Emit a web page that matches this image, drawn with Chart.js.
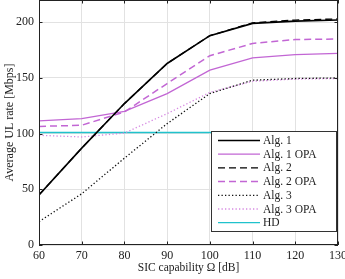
<!DOCTYPE html>
<html>
<head>
<meta charset="utf-8">
<script src="https://cdn.jsdelivr.net/npm/chart.js@4.4.0/dist/chart.umd.min.js"></script>
<style>
html,body{margin:0;padding:0;background:#fff;}
#wrap{width:345px;height:279px;position:relative;}
</style>
</head>
<body>
<div id="wrap"><canvas id="c" width="345" height="279"></canvas></div>
<script>
const sicCapability = [60, 70, 80, 90, 100, 110, 120, 130];
const alg1    = [45, 87, 127, 163, 188, 199, 201, 202];
const alg1OPA = [111.5, 113.5, 120, 136, 157, 168, 171, 172];
const alg2    = [45, 87, 127, 163, 188, 199.5, 202, 203];
const alg2OPA = [106.5, 107.5, 119.5, 145, 170, 181, 184.5, 185];
const alg3    = [21, 46, 78, 109, 136, 148, 149.5, 150];
const alg3OPA = [98.5, 97, 100.5, 118, 137, 147, 149, 149.5];
const hd      = [101, 101, 101, 101, 101, 101, 101, 101];
const yTicks = [0, 50, 100, 150, 200];
const xTicks = [60, 70, 80, 90, 100, 110, 120, 130];

const FONT = "'Liberation Serif', 'DejaVu Serif', serif";
const PURPLE = '#c266d4';
const PINK = '#d68ae2';
const CYAN = '#20c2cc';

function pts(arr){ return sicCapability.map((x,i)=>({x:x,y:arr[i]})); }

const datasets = [
  {label:'Alg. 1', data:pts(alg1), borderColor:'#000', borderWidth:1.6, borderDash:[]},
  {label:'Alg. 1 OPA', data:pts(alg1OPA), borderColor:PURPLE, borderWidth:1.3, borderDash:[]},
  {label:'Alg. 2', data:pts(alg2), borderColor:'#000', borderWidth:1.3, borderDash:[7,4]},
  {label:'Alg. 2 OPA', data:pts(alg2OPA), borderColor:PURPLE, borderWidth:1.5, borderDash:[7,4]},
  {label:'Alg. 3', data:pts(alg3), borderColor:'#111', borderWidth:1.3, borderDash:[1.3,2.2]},
  {label:'Alg. 3 OPA', data:pts(alg3OPA), borderColor:PINK, borderWidth:1.3, borderDash:[1.3,2.2]},
  {label:'HD', data:pts(hd), borderColor:CYAN, borderWidth:1.3, borderDash:[]}
];
datasets.forEach(d=>{ d.pointRadius=0; d.fill=false; d.tension=0; d.borderCapStyle='butt'; });

const framePlugin = {
  id:'frame',
  afterDatasetsDraw(chart){
    const ctx = chart.ctx, a = chart.chartArea;
    const xs = chart.scales.x, ys = chart.scales.y;
    ctx.save();
    ctx.strokeStyle = '#222';
    ctx.lineWidth = 1;
    ctx.strokeRect(a.left+0.5, a.top+0.5, a.right-a.left-1, a.bottom-a.top-1);
    const tl = 3.5;
    ctx.beginPath();
    xTicks.forEach(v=>{
      const px = Math.round(xs.getPixelForValue(v))+0.5;
      ctx.moveTo(px, a.bottom); ctx.lineTo(px, a.bottom-tl);
      ctx.moveTo(px, a.top); ctx.lineTo(px, a.top+tl);
    });
    yTicks.forEach(v=>{
      const py = Math.round(ys.getPixelForValue(v))+0.5;
      ctx.moveTo(a.left, py); ctx.lineTo(a.left+tl, py);
      ctx.moveTo(a.right, py); ctx.lineTo(a.right-tl, py);
    });
    ctx.stroke();

    // legend box
    const lx = 211, ly = 131, lw = 125, lh = 100;
    ctx.fillStyle = '#fff';
    ctx.fillRect(lx+0.5, ly+0.5, lw, lh);
    ctx.strokeStyle = '#333';
    ctx.lineWidth = 1;
    ctx.strokeRect(lx+0.5, ly+0.5, lw, lh);
    ctx.font = '11.5px ' + FONT;
    ctx.textBaseline = 'middle';
    ctx.textAlign = 'left';
    chart.data.datasets.forEach((d,i)=>{
      const y = ly + 9.5 + i*13.7;
      ctx.beginPath();
      ctx.strokeStyle = d.borderColor;
      ctx.lineWidth = d.borderWidth;
      ctx.setLineDash(d.borderDash || []);
      ctx.moveTo(218, y); ctx.lineTo(260, y);
      ctx.stroke();
      ctx.setLineDash([]);
      ctx.fillStyle = '#222';
      ctx.fillText(d.label, 263, y+0.5);
    });
    ctx.restore();
  }
};

function noPad(s){ s.paddingTop = 0; s.paddingBottom = 0; s.paddingLeft = 0; s.paddingRight = 0; }

new Chart(document.getElementById('c'), {
  type:'line',
  data:{datasets:datasets},
  options:{
    responsive:false,
    animation:false,
    devicePixelRatio:1,
    layout:{padding:{top:0, right:7, left:0, bottom:0}},
    plugins:{legend:{display:false}, tooltip:{enabled:false}},
    scales:{
      x:{
        type:'linear', min:60, max:130,
        afterBuildTicks(s){ s.ticks = xTicks.map(v=>({value:v})); },
        afterFit(s){ s.height = 34; noPad(s); },
        grid:{color:'#e2e2e2', lineWidth:1, drawTicks:false},
        border:{display:false},
        ticks:{font:{family:FONT,size:12}, color:'#222', padding:4, maxRotation:0},
        title:{display:true, text:'SIC capability Ω [dB]', font:{family:FONT,size:11.5}, color:'#222', padding:{top:2,bottom:4}}
      },
      y:{
        type:'linear', min:0, max:220,
        afterBuildTicks(s){ s.ticks = yTicks.map(v=>({value:v})); },
        afterFit(s){ s.width = 39; noPad(s); },
        grid:{color:'#e2e2e2', lineWidth:1, drawTicks:false},
        border:{display:false},
        ticks:{font:{family:FONT,size:12}, color:'#222', padding:5},
        title:{display:true, text:'Average UL rate [Mbps]', font:{family:FONT,size:12}, color:'#222', padding:{top:3,bottom:2}}
      }
    }
  },
  plugins:[framePlugin]
});
</script>
</body>
</html>
